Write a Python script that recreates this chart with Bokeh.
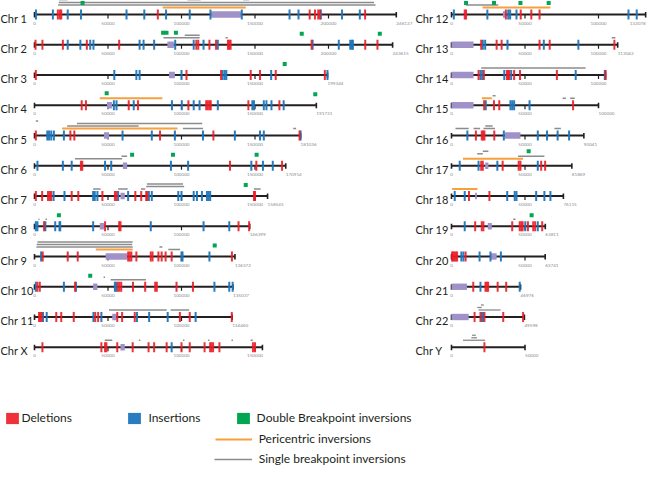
from bokeh.plotting import figure
from bokeh.models import ColumnDataSource, Range1d, Legend, LegendItem
from bokeh.core.properties import value
from bokeh.embed import file_html
from bokeh.resources import INLINE

# ---------------- data ----------------
CHROMS = ["Chr 1", "Chr 2", "Chr 3", "Chr 4", "Chr 5", "Chr 6", "Chr 7", "Chr 8",
          "Chr 9", "Chr 10", "Chr 11", "Chr X",
          "Chr 12", "Chr 13", "Chr 14", "Chr 15", "Chr 16", "Chr 17", "Chr 18",
          "Chr 19", "Chr 20", "Chr 21", "Chr 22", "Chr Y"]
LENGTHS = [246127, 243615, 199344, 191731, 181036, 170914, 158545, 146399,
           136372, 135037, 134460, 155050,
           132078, 113042, 104700, 100000, 90041, 81869, 76115,
           63811, 63741, 46976, 49598, 50000]
END_LABELS = ["246127", "243615", "199344", "191731", "181036", "170914", "158545", "146399",
              "136372", "135037", "134460", "",
              "132078", "113042", "", "100000", "90041", "81869", "76115",
              "63811", "63741", "46976", "49598", "50000"]
CEN_START = [120200, 90400, 91500, 49300, 47300, 60100, 58500, 44400, 48400, 39900, 52900, 58500,
             35000, 0, 0, 0, 36300, 22900, 16100, 24700, 26900, 0, 0, None]
CEN_END = [140400, 94800, 95500, 52700, 50700, 63000, 61400, 47300, 63000, 42800, 55800, 61400,
           36800, 15000, 15000, 15000, 46900, 25100, 17300, 27400, 30700, 10500, 11700, None]
TICK_STEP = 50000

# deletions (red) per chromosome
DEL_1 = [15900, 17300, 18200, 83900, 187200, 190800, 193000, 194200, 224900]
DEL_2 = [700, 5400, 19300, 35600, 57600, 110100, 111400, 119000, 123500, 131600, 132500, 133400,
         188500, 225000, 233300]
DEL_3 = [900, 103400, 126900, 147100, 153400, 164100, 197500]
DEL_4 = [32100, 35000, 64100, 70400, 104700, 116800, 117900, 119000, 119900, 145500, 166600]
DEL_5 = [900, 24400, 27100, 85400, 121700, 180300]
DEL_6 = [31600, 32500, 133000, 150900, 168400]
DEL_7 = [900, 5200, 9200, 10500, 11400, 25300, 29800, 46200, 54700, 55800, 68600, 72600, 76000,
         76700, 149300, 150000]
DEL_8 = [6500, 48000, 57600, 58500, 138800, 146000]
DEL_9 = [5600, 22600, 29400, 63700, 64800, 65900, 69300, 79100, 80300, 84300, 86500, 89200,
         93300, 134300]
DEL_10 = [2000, 3600, 27600, 56700, 57800, 59000, 67000, 75300, 82100, 83200, 96600, 107800]
DEL_11 = [3100, 4000, 4900, 14800, 18200, 26700, 41300, 43300, 56300, 59600, 68200, 98900,
          105600, 134200]
DEL_X = [5400, 45500, 48000, 48900, 56300, 66800, 77600, 81400, 89900, 100000, 105600, 115700,
         119500, 120400, 121500, 125800, 148600, 150000]
DEL_12 = [9000, 9900, 37000, 47100, 54300, 59900]
DEL_13 = [20200, 30700, 34100, 59900, 66800, 110800]
DEL_14 = [18400, 22000, 37700, 38600, 39200, 42600, 46600, 71700, 104900]
DEL_15 = [22200, 28900, 32500, 82700]
DEL_16 = [16600, 20600, 21500, 22400, 29100]
DEL_17 = [20200, 21300, 34800, 45700, 46900, 61000, 63700]
DEL_18 = [11900, 25800]
DEL_19 = [16100, 20600, 21700, 41300, 46400, 47500, 48400, 52000, 55600, 56900, 61700]
DEL_20 = [400, 1100, 2000, 2900, 3800, 9600]
DEL_21 = [14800, 23100, 24000, 24900, 31400, 37200]
DEL_22 = [15700, 19700, 22400, 35200, 48700]
DEL_Y = [22400]

# insertions (blue) per chromosome
INS_1 = [1000, 12500, 22600, 31600, 62600, 74700, 89500, 105600, 119700, 141000, 173500, 179600,
         194800, 209200, 221300]
INS_2 = [22600, 31200, 37900, 40100, 71500, 74200, 81400, 95700, 108300, 115000, 124700, 189200,
         207000, 214800, 215900, 216600]
INS_3 = [54300, 69300, 71500, 100000, 128000, 129400, 130500, 161000, 199300]
INS_4 = [54000, 55800, 67500, 93500, 100200, 108300, 112300, 124700, 148200, 149300, 156000,
         157800, 161200, 169500]
INS_5 = [8700, 9900, 11400, 13200, 20000, 59900, 79800, 95500, 114600, 136300, 153400, 156000,
         181000]
INS_6 = [2000, 19300, 25300, 48000, 52200, 92800, 104500, 147500, 155400, 162100]
INS_7 = [13000, 20400, 39900, 41000, 42800, 56900, 63700, 77800, 79800, 97800, 100000, 108300,
         110500, 113900, 117300, 118400, 119500]
INS_8 = [900, 2000, 7400, 14100, 17000, 17500, 39900, 79100, 115000, 132500]
INS_9 = [4500, 100000, 100700, 119000]
INS_10 = [900, 20000, 28200, 54700, 55600, 122400, 132500, 134800]
INS_11 = [5800, 8300, 40100, 45500, 69700, 78000, 90600, 109600]
INS_X = [93300]
INS_12 = [1600, 24400, 38600, 39900, 44200, 120400, 126000]
INS_13 = [21300, 22900, 38100, 62800, 86300]
INS_14 = [19700, 20900, 35900, 40600, 84500, 104300]
INS_15 = [23300, 40100, 41300, 42600, 53100]
INS_16 = [10800, 35600, 58700, 65000, 72200, 80000]
INS_17 = [5600, 18400, 31200, 58700]
INS_18 = [2200, 9000, 37900, 43000, 44200, 57600, 63200, 67300]
INS_19 = [9000, 50200, 58700]
INS_20 = [6700, 8100, 19100, 26500, 33600]
INS_21 = [19700, 46400]
INS_22 = [20600, 21500]
INS_Y = []

DELETIONS = [DEL_1, DEL_2, DEL_3, DEL_4, DEL_5, DEL_6, DEL_7, DEL_8, DEL_9, DEL_10, DEL_11, DEL_X,
             DEL_12, DEL_13, DEL_14, DEL_15, DEL_16, DEL_17, DEL_18, DEL_19, DEL_20, DEL_21,
             DEL_22, DEL_Y]
INSERTIONS = [INS_1, INS_2, INS_3, INS_4, INS_5, INS_6, INS_7, INS_8, INS_9, INS_10, INS_11, INS_X,
              INS_12, INS_13, INS_14, INS_15, INS_16, INS_17, INS_18, INS_19, INS_20, INS_21,
              INS_22, INS_Y]

# pericentric inversions (orange)
PERI_CHR = ["Chr 1", "Chr 4", "Chr 5", "Chr 9", "Chr 12", "Chr 15", "Chr 17", "Chr 18"]
PERI_START = [87200, 44400, 18800, 41700, 21100, 20600, 7800, 400]
PERI_END = [143700, 87000, 97300, 66800, 67300, 27400, 48700, 17700]

# single breakpoint inversions (gray)
SB_CHR = ["Chr 1", "Chr 1", "Chr 1", "Chr 1", "Chr 1",
          "Chr 2", "Chr 2", "Chr 2",
          "Chr 5", "Chr 5", "Chr 5", "Chr 5", "Chr 5",
          "Chr 6", "Chr 6",
          "Chr 7", "Chr 7", "Chr 7", "Chr 7", "Chr 7", "Chr 7",
          "Chr 8", "Chr 8",
          "Chr 9", "Chr 9", "Chr 9", "Chr 9", "Chr 9",
          "Chr 10", "Chr 10",
          "Chr 11", "Chr 11",
          "Chr X", "Chr X", "Chr X", "Chr X", "Chr X", "Chr X",
          "Chr 12", "Chr 13", "Chr 14",
          "Chr 15", "Chr 15", "Chr 15",
          "Chr 16", "Chr 16", "Chr 16", "Chr 16", "Chr 16",
          "Chr 17", "Chr 17", "Chr 17",
          "Chr 19",
          "Chr 22", "Chr 22", "Chr 22",
          "Chr Y", "Chr Y", "Chr Y"]
SB_START = [16100, 16500, 16600, 104000, 142000,
            87700, 102200, 130000,
            22200, 28900, 101000, 900, 176000,
            27600, 59200,
            39900, 56900, 72400, 76000, 76500, 149300,
            2700, 7500,
            1300, 1500, 2000, 91000, 85000,
            51800, 47000,
            50700, 92600,
            47800, 71000, 101000, 118000, 134000, 147000,
            9900, 109000, 20200,
            28000, 75600, 80700,
            2700, 15000, 21700, 23000, 70000,
            45300, 17500, 21300,
            42000,
            18400, 17500, 20000,
            7800, 13500, 14000]
SB_END = [232000, 231000, 22400, 113000, 146000,
          112300, 112300, 131500,
          70800, 114100, 114600, 2500, 178000,
          59600, 63000,
          45000, 63400, 75300, 101800, 101000, 153800,
          3400, 8500,
          66800, 66500, 66800, 99000, 87000,
          75800, 48000,
          89900, 105200,
          52900, 72000, 102000, 119000, 135000, 148500,
          31800, 111500, 91200,
          30000, 77800, 83800,
          11700, 19500, 29600, 28000, 74400,
          63200, 21300, 25100,
          43500,
          33400, 20600, 22000,
          22900, 17300, 16500]

# double breakpoint inversions (green)
DB_CHR = ["Chr 1", "Chr 2", "Chr 2", "Chr 2", "Chr 2", "Chr 2", "Chr 3", "Chr 4", "Chr 4",
          "Chr 6", "Chr 6", "Chr 6", "Chr 7", "Chr 8", "Chr 9", "Chr 10",
          "Chr 12", "Chr 12", "Chr 12", "Chr 12", "Chr 17", "Chr 19"]
DB_POS = [32700, 87500, 89800, 96200, 181800, 234900, 170200, 49100, 191000,
          66400, 94200, 151100, 143700, 16600, 122600, 37900,
          9900, 28900, 46900, 66100, 52500, 54500]

LEGEND_LABELS = ["Deletions", "Insertions", "Double Breakpoint inversions",
                 "Pericentric inversions", "Single breakpoint inversions"]

# ---------------- layout / style ----------------
W, H = 647, 466
PX_PER_UNIT = 1.47 / 1000.0
ROW_PX = 30.25
TOP_PX = 14.0
LEFT_LINE_PX = 34.0
RIGHT_LINE_PX = 451.0
LEFT_LABEL_PX = 0.0
RIGHT_LABEL_PX = 415.0
ROWS_PER_COL = 12

RED = "#ed1c24"
BLUE = "#1c75bc"
GREEN = "#00a651"
PURPLE = "#a191c9"
ORANGE = "#f7a03c"
GRAY = "#8c8c8c"
BLACK = "#231f20"
FONT = "Lato"


def ux(px):
    return px / PX_PER_UNIT


def ry(px):
    return px / ROW_PX


X_START = -ux(LEFT_LINE_PX)
RIGHT_OFF = ux(RIGHT_LINE_PX - LEFT_LINE_PX)

idx = {c: i for i, c in enumerate(CHROMS)}


def xoff(i):
    return RIGHT_OFF if i >= ROWS_PER_COL else 0.0


def row(i):
    return i % ROWS_PER_COL


p = figure(width=W, height=H,
           x_range=Range1d(X_START, X_START + ux(W)),
           y_range=Range1d((H - TOP_PX) / ROW_PX, -TOP_PX / ROW_PX),
           x_axis_type=None, y_axis_type=None,
           toolbar_location=None, output_backend="svg", min_border=0,
           outline_line_color=None, background_fill_color="white")
p.grid.visible = False

# chromosome lines, caps, ticks, labels
ln = dict(x0=[], x1=[], y=[])
caps = dict(x=[], y0=[], y1=[])
ticks = dict(x=[], y0=[], y1=[])
tl = dict(x=[], y=[], t=[])
el = dict(x=[], y=[], t=[], a=[])
names = dict(x=[], y=[], t=[])
for i, c in enumerate(CHROMS):
    o, r_, L = xoff(i), row(i), LENGTHS[i]
    ln["x0"].append(o); ln["x1"].append(o + L); ln["y"].append(r_)
    for x in (o, o + L):
        caps["x"].append(x); caps["y0"].append(r_ - ry(2.5)); caps["y1"].append(r_ + ry(3))
    t = 0
    while t < L - 3000:
        if t > 0:
            ticks["x"].append(o + t); ticks["y0"].append(r_); ticks["y1"].append(r_ + ry(4))
        tl["x"].append(o + t); tl["y"].append(r_ + ry(8.5)); tl["t"].append(str(t))
        t += TICK_STEP
    end_px = LEFT_LINE_PX + (o + L) * PX_PER_UNIT
    el["x"].append(o + L); el["y"].append(r_ + ry(8.5)); el["t"].append(END_LABELS[i])
    el["a"].append("right" if end_px + 16 > W else "left")
    names["x"].append(X_START + ux(RIGHT_LABEL_PX if i >= ROWS_PER_COL else LEFT_LABEL_PX))
    names["y"].append(r_ + ry(3.5))
    names["t"].append(c)

p.segment(x0="x0", y0="y", x1="x1", y1="y", source=ColumnDataSource(ln),
          line_color=BLACK, line_width=2)
p.segment(x0="x", y0="y0", x1="x", y1="y1", source=ColumnDataSource(caps),
          line_color=BLACK, line_width=1.6)
p.segment(x0="x", y0="y0", x1="x", y1="y1", source=ColumnDataSource(ticks),
          line_color=BLACK, line_width=1.2)
p.text(x="x", y="y", text="t", source=ColumnDataSource(tl), text_font=value(FONT),
       text_font_size="4.6px", text_color="#8a8c8f", text_align="center", text_baseline="middle")
p.text(x="x", y="y", text="t", text_align="a", source=ColumnDataSource(el), text_font=value(FONT),
       text_font_size="4.6px", text_color="#8a8c8f", text_baseline="middle")
p.text(x="x", y="y", text="t", source=ColumnDataSource(names), text_font=value(FONT),
       text_font_size="11px", text_color=BLACK, text_align="left", text_baseline="alphabetic")

# centromeres
cen = dict(l=[], r=[], t=[], b=[])
for i in range(len(CHROMS)):
    if CEN_START[i] is None:
        continue
    o, r_ = xoff(i), row(i)
    cen["l"].append(o + CEN_START[i]); cen["r"].append(o + CEN_END[i])
    cen["t"].append(r_ - ry(3.2)); cen["b"].append(r_ + ry(3.2))
p.quad(left="l", right="r", top="t", bottom="b", source=ColumnDataSource(cen),
       fill_color=PURPLE, line_color=None)


def marks(lists):
    d = dict(x=[], y=[])
    for i, lst in enumerate(lists):
        for v in lst:
            d["x"].append(xoff(i) + v); d["y"].append(row(i))
    return ColumnDataSource(d)


r_ins = p.rect(x="x", y="y", width=2, height=10, width_units="screen", height_units="screen",
               source=marks(INSERTIONS), fill_color=BLUE, line_color=None, fill_alpha=0.95)
r_del = p.rect(x="x", y="y", width=2, height=10, width_units="screen", height_units="screen",
               source=marks(DELETIONS), fill_color=RED, line_color=None, fill_alpha=0.9)

# inversion lines, stacked above each chromosome
events = [(c, s, e, "peri") for c, s, e in zip(PERI_CHR, PERI_START, PERI_END)] + \
         [(c, s, e, "sb") for c, s, e in zip(SB_CHR, SB_START, SB_END)]
levels_end = {}
placed = []
for c, s, e, k in events:
    lv = levels_end.setdefault(c, [])
    for j, last in enumerate(lv):
        if s > last + 1500:
            lv[j] = e
            level = j
            break
    else:
        lv.append(e)
        level = len(lv) - 1
    placed.append((c, s, e, k, level))

peri = dict(x0=[], x1=[], y=[])
sb = dict(x0=[], x1=[], y=[])
for c, s, e, k, level in placed:
    i = idx[c]
    d = peri if k == "peri" else sb
    d["x0"].append(xoff(i) + s); d["x1"].append(xoff(i) + e)
    d["y"].append(row(i) - ry(7 + 2.5 * level))
r_peri = p.segment(x0="x0", y0="y", x1="x1", y1="y", source=ColumnDataSource(peri),
                   line_color=ORANGE, line_width=2)
r_sb = p.segment(x0="x0", y0="y", x1="x1", y1="y", source=ColumnDataSource(sb),
                 line_color=GRAY, line_width=1.3)

db = dict(x=[], y=[])
for c, pos in zip(DB_CHR, DB_POS):
    i = idx[c]
    top = -1
    for cc, s, e, k, level in placed:
        if cc == c and s - 3000 <= pos <= e + 3000:
            top = max(top, level)
    off = max(11.0, 7 + 2.5 * top + 5) if top >= 0 else 11.0
    off = min(off, TOP_PX - 2.5) if row(i) == 0 else off
    db["x"].append(xoff(i) + pos); db["y"].append(row(i) - ry(off))
r_db = p.rect(x="x", y="y", width=4, height=4, width_units="screen", height_units="screen",
              source=ColumnDataSource(db), fill_color=GREEN, line_color=None)

# legends (one per item, placed like the original)
legend_specs = [
    (r_del, LEGEND_LABELS[0], (4.4, 41), 16, 1),
    (r_ins, LEGEND_LABELS[1], (126.4, 41), 16, 6),
    (r_db, LEGEND_LABELS[2], (234.6, 41), 16, 6),
    (r_peri, LEGEND_LABELS[3], (214.7, 20), 37, 7),
    (r_sb, LEGEND_LABELS[4], (213.7, 0), 38, 7),
]
for rend, label, loc, gw, standoff in legend_specs:
    lg = Legend(items=[LegendItem(label=label, renderers=[rend])], location=loc,
                glyph_width=gw, glyph_height=14, label_height=14, label_standoff=standoff,
                padding=0, margin=0, spacing=0, border_line_color=None,
                background_fill_alpha=0, label_text_font=FONT, label_text_font_size="12px",
                label_text_color=BLACK)
    p.add_layout(lg)

open("out.html", "w").write(file_html(p, INLINE))
